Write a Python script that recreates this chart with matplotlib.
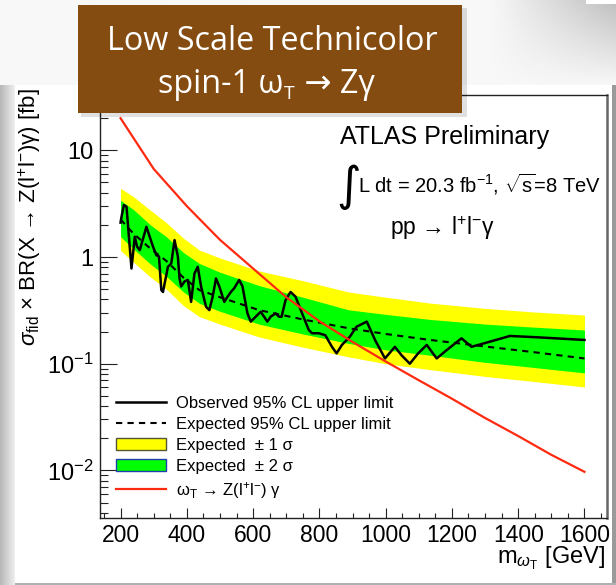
import matplotlib
matplotlib.use("Agg")
import matplotlib.pyplot as plt
import numpy as np
from matplotlib.lines import Line2D
from matplotlib.patches import Patch, Rectangle
from matplotlib.ticker import FixedLocator, NullFormatter

plt.rcParams["font.family"] = ["Liberation Sans", "DejaVu Sans"]
plt.rcParams["mathtext.fontset"] = "custom"
plt.rcParams["mathtext.rm"] = "Liberation Sans"
plt.rcParams["mathtext.it"] = "Liberation Sans:italic"
plt.rcParams["mathtext.sf"] = "Liberation Sans"

# expected limit and bands [fb]
band_mass = [200, 238, 290, 338, 390, 438, 500, 618, 750, 888, 1000, 1134, 1300, 1450, 1600]
expected = [2.25, 1.67, 1.2, 0.92, 0.64, 0.49, 0.42, 0.318, 0.26, 0.215, 0.19, 0.167, 0.145, 0.128, 0.112]
yellow_hi = [4.4, 3.7, 2.75, 2.1, 1.5, 1.16, 0.98, 0.74, 0.6, 0.47, 0.42, 0.37, 0.33, 0.305, 0.286]
green_hi = [3.4, 2.8, 2.0, 1.55, 1.1, 0.87, 0.72, 0.54, 0.42, 0.32, 0.29, 0.26, 0.235, 0.22, 0.207]
green_lo = [1.55, 1.2, 0.86, 0.66, 0.47, 0.368, 0.31, 0.235, 0.19, 0.155, 0.135, 0.12, 0.103, 0.092, 0.082]
yellow_lo = [1.15, 0.9, 0.65, 0.5, 0.35, 0.276, 0.235, 0.178, 0.143, 0.116, 0.1, 0.088, 0.076, 0.068, 0.0605]

# observed limit [fb]
obs_mass = [200, 203, 210, 218, 233, 243, 250, 258, 278, 298, 308, 316, 323, 328, 343, 353,
            363, 373, 378, 383, 393, 403, 413, 423, 433, 443, 458, 468, 478, 488, 498, 513,
            523, 533, 543, 558, 568, 583, 593, 608, 623, 633, 643, 653, 668, 678, 686, 698,
            713, 728, 748, 768, 778, 798, 818, 838, 852, 868, 892, 912, 943, 968, 998, 1028,
            1048, 1073, 1098, 1124, 1154, 1184, 1229, 1259, 1315, 1375, 1455, 1600]
observed = [2.1, 2.39, 3.07, 2.96, 0.78, 1.55, 1.25, 1.16, 1.92, 1.25, 1.04, 1.01, 0.49, 0.47, 0.81, 0.87,
            1.44, 1.01, 0.63, 0.53, 0.59, 0.61, 0.38, 0.70, 0.81, 0.53, 0.342, 0.318, 0.425, 0.63, 0.53, 0.38,
            0.425, 0.47, 0.51, 0.61, 0.53, 0.296, 0.248, 0.276, 0.307, 0.276, 0.248, 0.276, 0.296, 0.276, 0.276, 0.395,
            0.47, 0.425, 0.296, 0.207, 0.193, 0.193, 0.185, 0.144, 0.125, 0.15, 0.179, 0.222, 0.248, 0.167, 0.112, 0.144,
            0.12, 0.10, 0.125, 0.15, 0.112, 0.134, 0.173, 0.144, 0.161, 0.182, 0.177, 0.167]

# technicolor omega_T signal cross section [fb]
signal_mass = [200, 300, 400, 500, 600, 700, 800, 900, 1000, 1100, 1200, 1300, 1400, 1500, 1600]
signal_xs = [20.0, 6.7, 3.0, 1.45, 0.78, 0.42, 0.25, 0.16, 0.105, 0.07, 0.047, 0.031, 0.021, 0.014, 0.0097]

W, H = 616, 585
fig = plt.figure(figsize=(W / 100, H / 100), dpi=100)
fig.patch.set_facecolor("white")

# slide background
bg = fig.add_axes([0, 0, 1, 1], zorder=-5)
bg.set_xlim(0, W)
bg.set_ylim(H, 0)
bg.axis("off")
gx = np.linspace(0, 1, 200)
gy = np.linspace(1, 0, 60)
top_shade = 0.97 - 0.22 * np.outer(gy, np.clip((gx - 0.8) / 0.2, 0, 1))
bg.imshow(top_shade, extent=(0, W, 85, 0), cmap="gray", vmin=0, vmax=1, aspect="auto")
left_shade = np.linspace(0.72, 0.93, 20)[None, :]
bg.imshow(left_shade, extent=(0, 15, H, 85), cmap="gray", vmin=0, vmax=1, aspect="auto")
bg.add_patch(Rectangle((15, 85), 597, 498, facecolor="white", edgecolor="none"))
bg.add_patch(Rectangle((612, 85), 4, 500, facecolor="#9a9a9a", edgecolor="none"))
bg.add_patch(Rectangle((15, 583), 601, 2, facecolor="#b0b0b0", edgecolor="none"))
bg.add_patch(Rectangle((586, 0), 30, 4, facecolor="white", edgecolor="none"))

# main plot
ax = fig.add_axes([100 / W, 1 - 518 / H, 507 / W, 423 / H])
ax.fill_between(band_mass, yellow_lo, yellow_hi, color="#ffff00", lw=0)
ax.fill_between(band_mass, green_lo, green_hi, color="#00ff00", lw=0)
ax.plot(band_mass, expected, color="black", lw=1.5, ls=(0, (3, 2.5)))
ax.plot(obs_mass, observed, color="black", lw=1.8, solid_joinstyle="round")
ax.plot(signal_mass, signal_xs, color="#ff2a10", lw=1.6)

ax.set_yscale("log")
ax.set_xlim(138, 1668)
ax.set_ylim(0.00358, 33)
ax.set_xticks([200, 400, 600, 800, 1000, 1200, 1400, 1600])
ax.xaxis.set_minor_locator(FixedLocator(np.arange(150, 1668, 50)))
ax.set_yticks([0.01, 0.1, 1, 10], [r"$10^{-2}$", r"$10^{-1}$", "1", "10"])
minor_y = [m * 10.0 ** e for e in range(-3, 2) for m in range(2, 10)]
ax.yaxis.set_minor_locator(FixedLocator(minor_y))
ax.yaxis.set_minor_formatter(NullFormatter())
ax.tick_params(axis="both", which="both", direction="in", top=False, right=False,
               width=0.8, color="#222222", labelsize=17)
ax.tick_params(axis="y", which="major", length=12.2, pad=5)
ax.tick_params(axis="y", which="minor", length=5.8)
ax.tick_params(axis="x", which="major", length=7.2, pad=4, labelsize=16.5)
ax.tick_params(axis="x", which="minor", length=3.6)
for side in ["left", "bottom", "top"]:
    ax.spines[side].set_linewidth(1.0)
    ax.spines[side].set_color("#222222")
ax.spines["right"].set_linewidth(1.8)
ax.spines["right"].set_color("#666666")

handles = [
    Line2D([], [], color="black", lw=1.8),
    Line2D([], [], color="black", lw=1.5, ls=(0, (3, 2.5))),
    Patch(facecolor="#ffff00", edgecolor="#555533", lw=1.0),
    Patch(facecolor="#00ff00", edgecolor="#2040b0", lw=1.0),
    Line2D([], [], color="#ff2a10", lw=1.6),
]
labels = [
    "Observed 95% CL upper limit",
    "Expected 95% CL upper limit",
    "Expected  \u00b1 1 \u03c3",
    "Expected  \u00b1 2 \u03c3",
    r"$\mathrm{\omega}_{\rm T}$ " + "\u2192 Z(l$^{+}$l$^{-}$) \u03b3",
]
ax.legend(handles, labels, loc="upper left", bbox_to_anchor=(116 / W, 1 - 396 / H),
          bbox_transform=fig.transFigure, frameon=False, fontsize=12,
          handlelength=3.0, handletextpad=0.6, labelspacing=0.36,
          borderpad=0, borderaxespad=0)

# overlay with texts and title box (pixel coordinates)
ov = fig.add_axes([0, 0, 1, 1], zorder=10)
ov.set_xlim(0, W)
ov.set_ylim(H, 0)
ov.axis("off")

ov.text(340, 137, "ATLAS Preliminary", fontsize=18, ha="left", va="center")
ov.text(336, 187, "\u222b", fontsize=34, ha="left", va="center", family=["DejaVu Sans"])
ov.text(358, 184, r"L dt = 20.3 fb$^{-1}$, $\sqrt{\rm s}$=8 TeV", fontsize=14.5,
        ha="left", va="center")
ov.text(390, 228, "pp \u2192 l$^{+}$l$^{-}$\u03b3", fontsize=16.5, ha="left", va="center")

ov.text(30, 88, r"$\sigma_{\rm fid}$" + " \u00d7 BR(X \u2192 Z(l$^{+}$l$^{-}$)\u03b3) [fb]",
        fontsize=16, rotation=90, ha="center", va="top")
ov.text(605, 558, r"m$_{\omega_{\rm T}}$ [GeV]", fontsize=17, ha="right", va="center")

ov.add_patch(Rectangle((81, 8), 386, 109, facecolor="black", alpha=0.12, edgecolor="none"))
ov.add_patch(Rectangle((78, 5), 384, 108, facecolor="#854c11", edgecolor="none"))
box_font = ["Open Sans", "DejaVu Sans"]
ov.text(272, 42, "Low Scale Technicolor", fontsize=23.3, color="white", ha="center", va="center",
        family=box_font)
t1 = ov.text(158, 93, "spin-1 \u03c9", fontsize=23.3, color="white", ha="left", va="baseline",
             family=box_font)
t2 = ov.annotate("T", xy=(1, 0), xycoords=t1, xytext=(0.5, -1.5), textcoords="offset points",
                 fontsize=14, color="white", ha="left", va="bottom", family=box_font)
ov.annotate(" \u2192 Z\u03b3", xy=(1, 0), xycoords=(t2, t1), xytext=(1, 0),
            textcoords="offset points", fontsize=23.3, color="white", ha="left", va="bottom",
            family=box_font)

fig.savefig("out.png", dpi=100)
